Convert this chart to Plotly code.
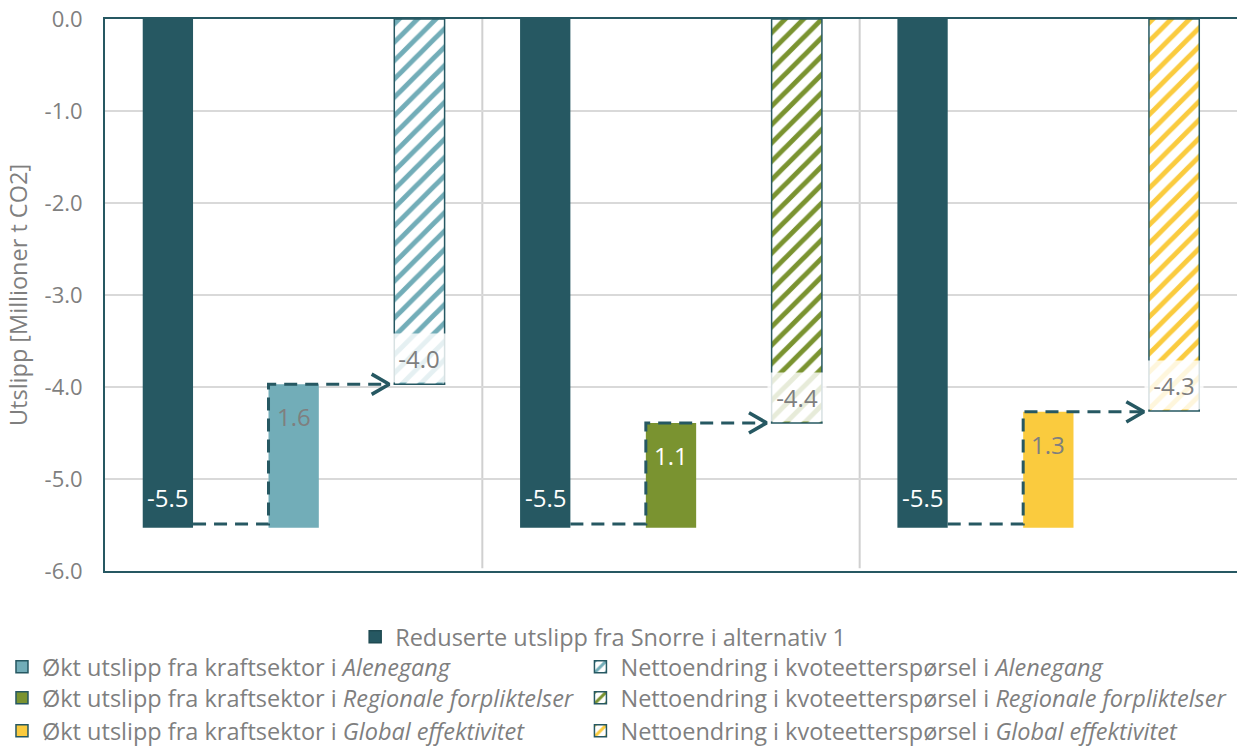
import plotly.graph_objects as go

# ---------------- data ----------------
scenarios = ["Alenegang", "Regionale forpliktelser", "Global effektivitet"]
snorre_reduction = [-5.53, -5.53, -5.53]      # Reduserte utslipp fra Snorre i alternativ 1
power_increase = [1.56, 1.14, 1.26]           # Økt utslipp fra kraftsektor
net_change = [-3.97, -4.39, -4.26]            # Nettoendring i kvoteetterspørsel
y_tick_values = [0, -1, -2, -3, -4, -5, -6]
y_tick_labels = ["0.0", "-1.0", "-2.0", "-3.0", "-4.0", "-5.0", "-6.0"]

# ---------------- style ----------------
DARK = "#265862"
SCEN_COLORS = ["#72ADB8", "#7A9330", "#FACB3E"]
SCEN_LABEL_COLORS = ["#7F7F7F", "#FFFFFF", "#7F7F7F"]
GREY = "#7F7F7F"
FONT = "Open Sans"
BAR_W = 0.4
SLOTS = 3
LABEL_SIZE = 24

fig = go.Figure()

def hatch(color):
    return dict(shape="/", fgcolor=color, bgcolor="white", size=13, solidity=0.38, fillmode="replace")

for i, sc in enumerate(scenarios):
    x0 = i * SLOTS
    top = snorre_reduction[i] + power_increase[i]
    # Snorre reduction
    fig.add_trace(go.Bar(
        x=[x0], y=[snorre_reduction[i]], width=BAR_W,
        marker=dict(color=DARK, line=dict(width=0)),
        showlegend=False, hoverinfo="skip"))
    fig.add_annotation(x=x0, y=snorre_reduction[i], yanchor="bottom", yshift=12, showarrow=False,
                       text=f"{snorre_reduction[i]:.1f}",
                       font=dict(color="white", size=LABEL_SIZE, family=FONT))
    # increase in power sector
    fig.add_trace(go.Bar(
        x=[x0 + 1], y=[power_increase[i]], base=[snorre_reduction[i]], width=BAR_W,
        marker=dict(color=SCEN_COLORS[i], line=dict(width=0)),
        showlegend=False, hoverinfo="skip"))
    fig.add_annotation(x=x0 + 1, y=top, yanchor="top", yshift=-14, showarrow=False,
                       text=f"{power_increase[i]:.1f}",
                       font=dict(color=SCEN_LABEL_COLORS[i], size=LABEL_SIZE, family=FONT))
    # net change (hatched)
    fig.add_trace(go.Bar(
        x=[x0 + 2], y=[net_change[i]], width=BAR_W,
        marker=dict(color="white", pattern=hatch(SCEN_COLORS[i]), line=dict(color=DARK, width=1.5)),
        showlegend=False, hoverinfo="skip"))
    # label box for net change
    fig.add_annotation(
        x=x0 + 2, y=net_change[i], xref="x", yref="y", yanchor="bottom",
        text=f"{net_change[i]:.1f}", showarrow=False,
        font=dict(color=GREY, size=LABEL_SIZE, family=FONT),
        bgcolor="rgba(255,255,255,0.82)", width=58, height=48, borderpad=0, yshift=1)
    # dashed connector
    left_edge = x0 + 1 - BAR_W / 2
    tip = x0 + 2 - BAR_W / 2 - 0.04
    fig.add_trace(go.Scatter(
        x=[x0 + BAR_W / 2, left_edge, left_edge, tip],
        y=[snorre_reduction[i] + 0.04, snorre_reduction[i] + 0.04, top, top],
        mode="lines", line=dict(color=DARK, width=3, dash="13px,8px"),
        showlegend=False, hoverinfo="skip"))
    fig.add_trace(go.Scatter(
        x=[tip - 0.14, tip, tip - 0.14], y=[top + 0.11, top, top - 0.11],
        mode="lines", line=dict(color=DARK, width=3.5),
        showlegend=False, hoverinfo="skip"))

# ---------------- legend entries (one legend box per row/column) ----------------
legend_font = dict(family=FONT, size=23.5, color=GREY)
row_y = [-0.1196, -0.1739, -0.2301, -0.2899]   # paper y of the legend rows
col_x = [-0.091, 0.42]                         # paper x of the two legend columns
legend_layouts = {}

fig.add_trace(go.Bar(x=[None], y=[None], name="Reduserte utslipp fra Snorre i alternativ 1",
                     marker=dict(color=DARK, line=dict(color="#1F4A52", width=1.5)), legend="legend"))
legend_layouts["legend"] = dict(x=0.221, y=row_y[0])
for i, sc in enumerate(scenarios):
    key = f"legend{2 + i}"
    fig.add_trace(go.Bar(x=[None], y=[None], name=f"Økt utslipp fra kraftsektor i <i>{sc}</i>",
                         marker=dict(color=SCEN_COLORS[i], line=dict(color=DARK, width=1.5)), legend=key))
    legend_layouts[key] = dict(x=col_x[0], y=row_y[1 + i])
for i, sc in enumerate(scenarios):
    key = f"legend{5 + i}"
    fig.add_trace(go.Bar(x=[None], y=[None], name=f"Nettoendring i kvoteetterspørsel i <i>{sc}</i>",
                         marker=dict(color="white", pattern=hatch(SCEN_COLORS[i]), line=dict(color=DARK, width=1.5)),
                         legend=key))
    legend_layouts[key] = dict(x=col_x[1], y=row_y[1 + i])

for key, pos in legend_layouts.items():
    fig.update_layout({key: dict(x=pos["x"], y=pos["y"], xanchor="left", yanchor="middle",
                                 font=legend_font, bgcolor="rgba(0,0,0,0)")})

# separators between scenario groups
for i in range(1, len(scenarios)):
    fig.add_shape(type="line", xref="x", yref="paper", x0=i * SLOTS - 0.5, x1=i * SLOTS - 0.5,
                  y0=0.005, y1=1, line=dict(color="#D0D0D0", width=2), layer="below")

fig.update_layout(
    width=1237, height=749,
    margin=dict(l=105, r=0, t=19, b=178, autoexpand=False),
    plot_bgcolor="white", paper_bgcolor="white",
    barmode="overlay",
    font=dict(family=FONT, color=GREY),
    xaxis=dict(range=[-0.5, 8.5], showticklabels=False, showgrid=False, zeroline=False,
               showline=True, mirror=True, linecolor=DARK, linewidth=2, ticks="", fixedrange=True),
    yaxis=dict(range=[-6, 0], tickvals=y_tick_values, ticktext=y_tick_labels,
               showgrid=True, gridcolor="#D9D9D9", gridwidth=1.5, zeroline=False,
               showline=True, linecolor=DARK, linewidth=2, ticks="", ticklabelstandoff=16,
               tickfont=dict(family=FONT, size=22, color=GREY),
               title=dict(text="Utslipp [Millioner t CO2]", font=dict(family=FONT, size=23.5, color=GREY), standoff=10)),
    showlegend=True,
)

fig.write_html("out.html")
